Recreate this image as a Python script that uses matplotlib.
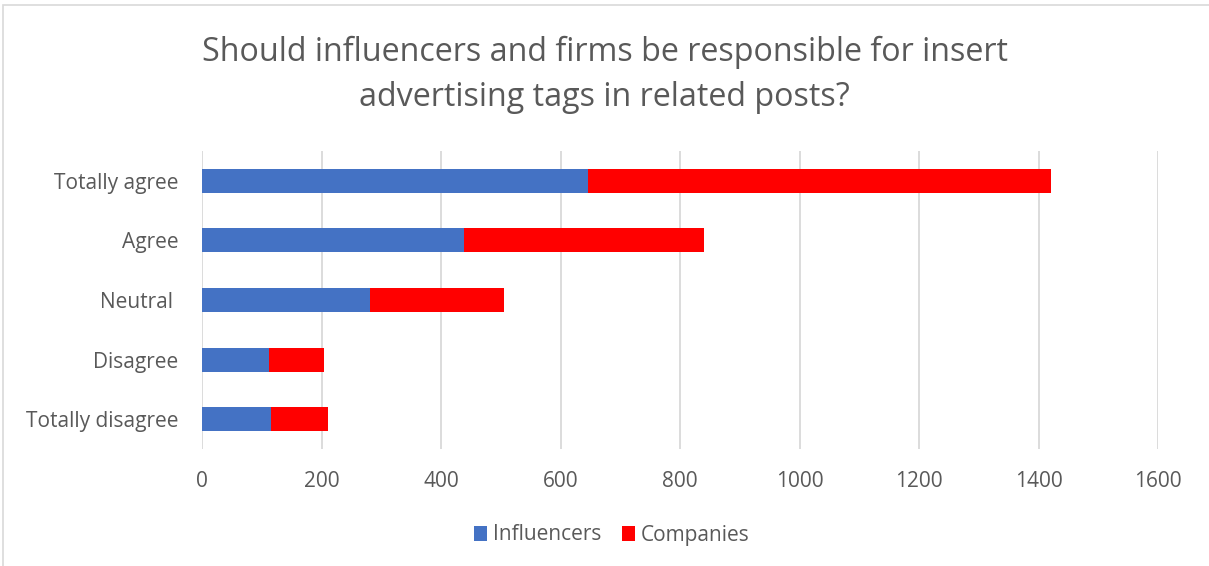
import numpy as np
import matplotlib.pyplot as plt
from matplotlib.patches import Rectangle

plt.rcParams['font.family'] = ['Open Sans', 'DejaVu Sans']

categories = ["Totally agree", "Agree", "Neutral ", "Disagree", "Totally disagree"]
influencers = [646, 438, 282, 112, 115]
companies = [775, 403, 224, 93, 96]
xticks = [0, 200, 400, 600, 800, 1000, 1200, 1400, 1600]

text_col = "#595959"
grid_col = "#d9d9d9"

fig = plt.figure(figsize=(12.09, 5.66), dpi=100)
ax = fig.add_axes([202/1209, 1-449/566, (1158-202)/1209, (449-151)/566])

y = np.arange(len(categories))
ax.barh(y, influencers, height=0.4, color="#4472c4", label="Influencers", zorder=3)
ax.barh(y, companies, height=0.4, left=influencers, color="#ff0000", label="Companies", zorder=3)

ax.set_ylim(len(categories)-0.5, -0.5)
ax.set_xlim(0, 1600)
ax.set_xticks(xticks)
ax.set_yticks(y)
ax.set_yticklabels(categories)
ax.grid(axis="x", color=grid_col, linewidth=1.3, zorder=0)
for s in ax.spines.values():
    s.set_visible(False)
ax.tick_params(length=0, colors=text_col, labelsize=15)
ax.tick_params(axis="x", pad=16)
ax.tick_params(axis="y", pad=17)

fig.text(0.5, 1-52/566, "Should influencers and firms be responsible for insert",
         ha="center", va="center", fontsize=23.2, color=text_col)
fig.text(0.5, 1-97/566, "advertising tags in related posts?",
         ha="center", va="center", fontsize=23.2, color=text_col)

fig.legend(loc="center", bbox_to_anchor=(612/1209, 1-535/566), ncol=2, frameon=False,
           fontsize=15, labelcolor=text_col, handlelength=0.6, handleheight=0.7,
           handletextpad=0.3, columnspacing=1.0)

# outer chart frame
fig.patches.append(Rectangle((3/1209, -0.1), 1.2, 1-5/566+0.1, transform=fig.transFigure,
                             fill=False, edgecolor=grid_col, linewidth=1.2))

fig.savefig("out.png", dpi=100)
